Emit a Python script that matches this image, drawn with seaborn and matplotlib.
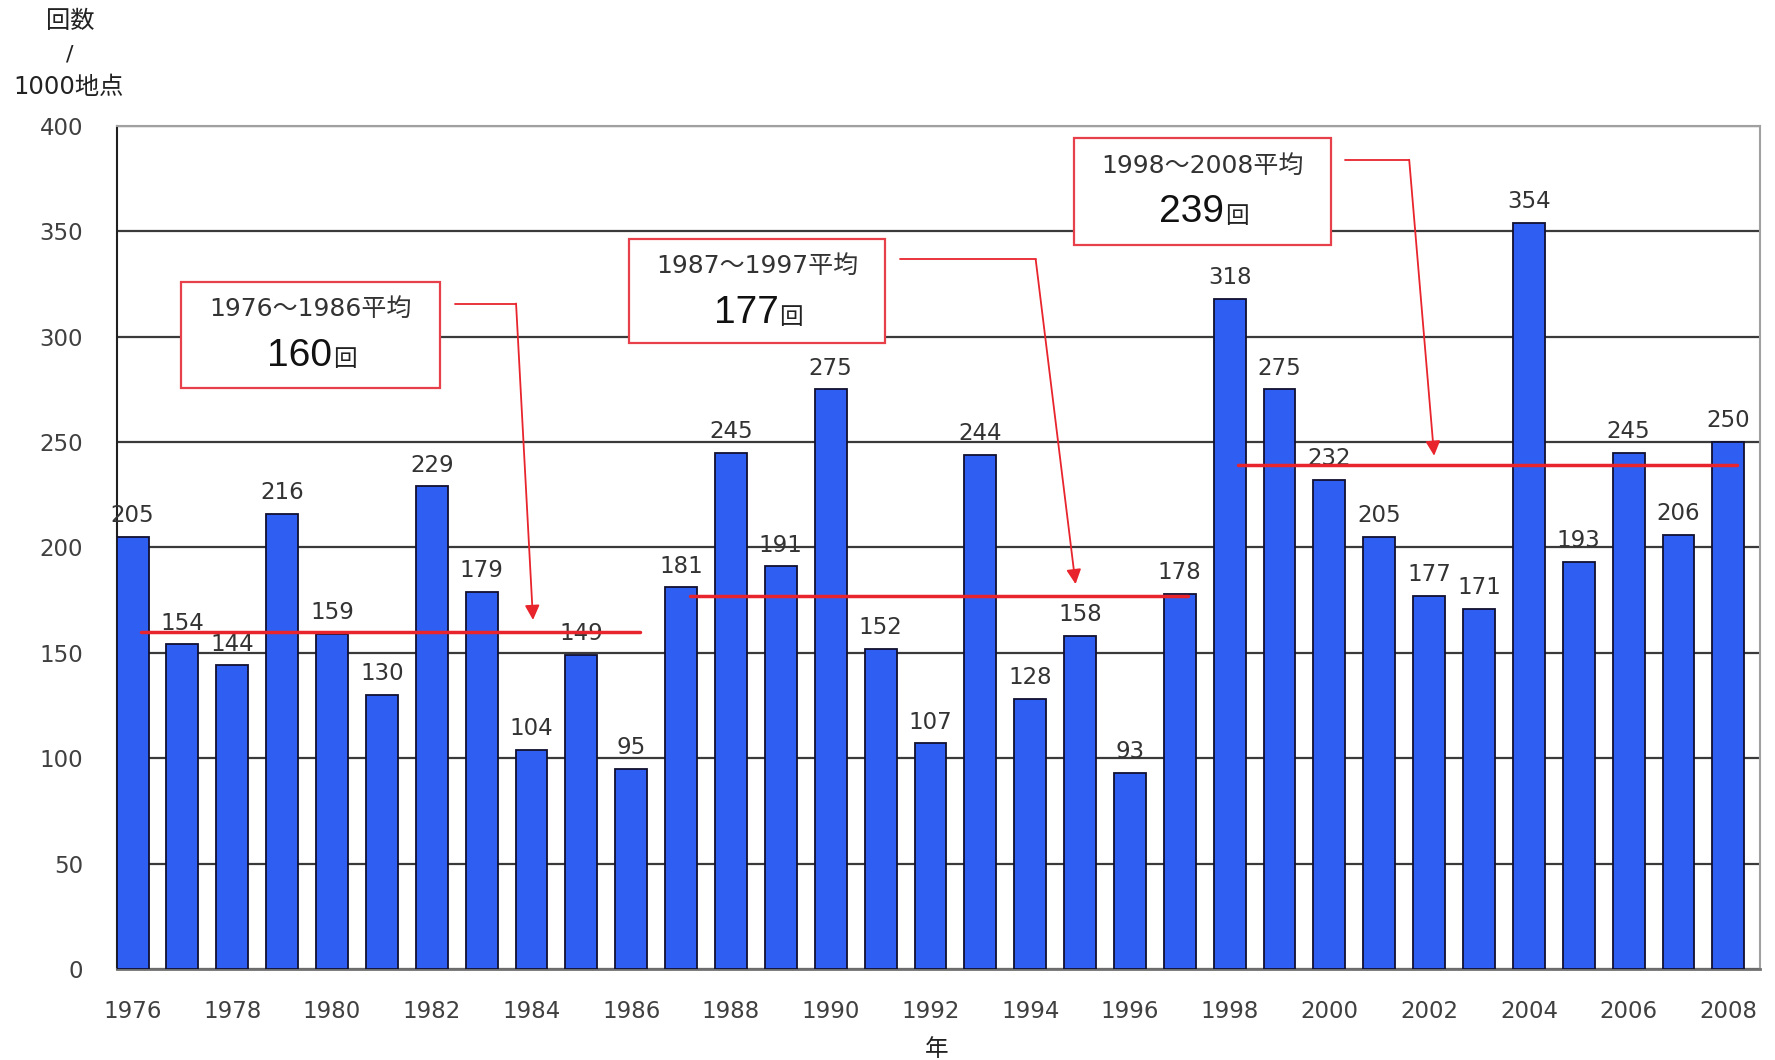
import matplotlib
matplotlib.use("Agg")
import matplotlib.pyplot as plt
import seaborn as sns
import pandas as pd
from matplotlib.patches import Rectangle

years = list(range(1976, 2009))
counts = [205, 154, 144, 216, 159, 130, 229, 179, 104, 149, 95,
          181, 245, 191, 275, 152, 107, 244, 128, 158, 93, 178,
          318, 275, 232, 205, 177, 171, 354, 193, 245, 206, 250]
period_labels = ["1976〜1986平均", "1987〜1997平均", "1998〜2008平均"]
period_start = [1976, 1987, 1998]
period_end = [1986, 1997, 2008]
period_means = [160, 177, 239]
yticks = [0, 50, 100, 150, 200, 250, 300, 350, 400]

sns.set_theme(style="white")
plt.rcParams['font.family'] = ['DejaVu Sans', 'Noto Sans CJK JP']

df = pd.DataFrame({"year": [str(y) for y in years], "count": counts})

fig = plt.figure(figsize=(17.75, 10.6), dpi=100)
ax = fig.add_axes([0.0657, 0.0858, 0.926, 0.7955])

sns.barplot(data=df, x="year", y="count", color="#2F5FF2", saturation=1,
            width=0.64, edgecolor="#101030", linewidth=1.3, ax=ax, zorder=3)

ax.set_xlim(-0.32, 32.64)
ax.set_ylim(0, 400)
ax.set_yticks(yticks)
ax.set_yticklabels([str(t) for t in yticks])
ax.yaxis.grid(True, color="#3a3a3a", linewidth=1.6, zorder=0)
ax.set_axisbelow(True)
xt = list(range(0, len(years), 2))
ax.set_xticks(xt)
ax.set_xticklabels([str(years[i]) for i in xt])
ax.tick_params(axis="x", length=0, pad=22, labelsize=16.5, labelcolor="#404040")
ax.tick_params(axis="y", length=0, pad=24, labelsize=16.5, labelcolor="#404040")
ax.set_xlabel("")
ax.set_ylabel("")
for s in ["top", "right"]:
    ax.spines[s].set_color("#a0a0a0")
    ax.spines[s].set_linewidth(1.5)
ax.spines["left"].set_color("#202020")
ax.spines["bottom"].set_color("#707070")
ax.spines["left"].set_linewidth(1.5)
ax.spines["bottom"].set_linewidth(2)

# value labels
for c in ax.containers:
    ax.bar_label(c, labels=[str(v) for v in counts], padding=7,
                 fontsize=16.5, color="#333333", zorder=5)

red = "#E8242C"
# average lines
for st, en, m in zip(period_start, period_end, period_means):
    i0 = years.index(st) + 0.17
    i1 = years.index(en) + 0.17
    ax.plot([i0, i1], [m, m], color=red, lw=2.5, zorder=6)

# annotation boxes (x0, x1, y0, y1) in data coords
boxes = [(0.98, 6.17, 275.4, 326.0), (9.96, 15.09, 296.9, 346.3), (18.88, 24.04, 343.6, 394.1)]
arrows = [((6.47, 315.7), (7.69, 315.7), (8.03, 165.6)),
          ((15.39, 336.6), (18.11, 336.6), (18.91, 182.6)),
          ((24.31, 383.9), (25.6, 383.9), (26.1, 243.5))]
for (x0, x1, y0, y1), lab, m, arr in zip(boxes, period_labels, period_means, arrows):
    ax.add_patch(Rectangle((x0, y0), x1 - x0, y1 - y0, facecolor="white",
                           edgecolor="#E8404A", lw=1.6, zorder=7))
    cx = (x0 + x1) / 2
    ax.text(cx, y1 - 13, lab, ha="center", va="center", fontsize=18,
            color="#333333", zorder=8)
    ax.text(cx - 0.22, y1 - 35, str(m), ha="center", va="center", fontsize=28,
            color="#111111", zorder=8, family=['Liberation Sans'])
    ax.text(cx + 0.68, y1 - 37, "回", ha="center", va="center", fontsize=17,
            color="#222222", zorder=8, family=['Noto Sans CJK JP'])
    (a, b, c) = arr
    ax.plot([a[0], b[0]], [a[1], b[1]], color=red, lw=1.3, zorder=8)
    ax.annotate("", xy=c, xytext=b,
                arrowprops=dict(arrowstyle="-|>", color=red, lw=1.3,
                                mutation_scale=22, shrinkA=0, shrinkB=0),
                zorder=8)

# y axis label
fig.text(70 / 1775, 1 - 21 / 1060, "回数", ha="center", va="center", fontsize=17.5, color="#222222")
fig.text(70 / 1775, 1 - 54 / 1060, "/", ha="center", va="center", fontsize=16, color="#222222")
fig.text(69 / 1775, 1 - 87 / 1060, "1000地点", ha="center", va="center", fontsize=17.5, color="#222222")
# x axis label
fig.text(937 / 1775, 1 - 1049 / 1060, "年", ha="center", va="center", fontsize=17, color="#222222")

fig.savefig("out.png", dpi=100, facecolor="white")
